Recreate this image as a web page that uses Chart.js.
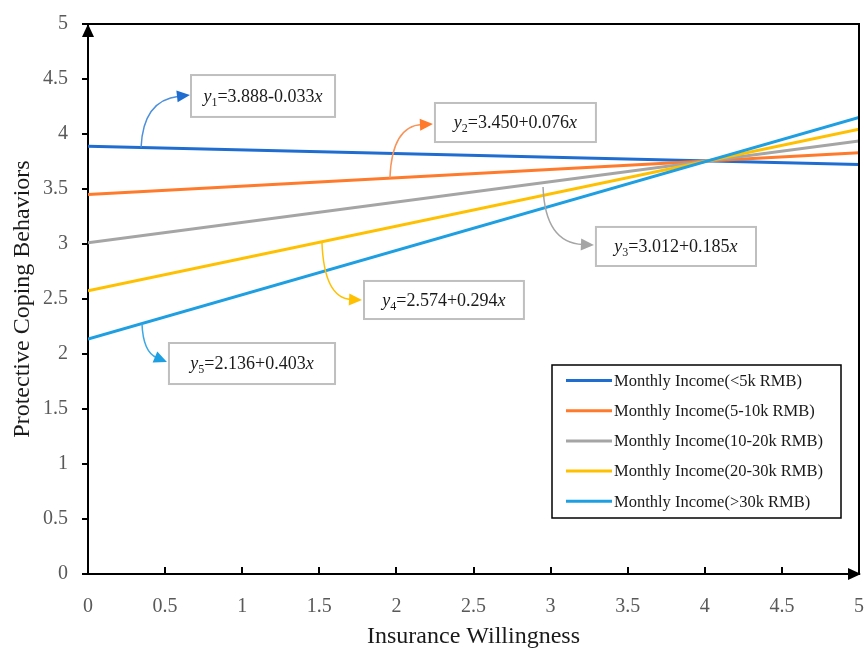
<!DOCTYPE html>
<html><head><meta charset="utf-8">
<script src="https://cdn.jsdelivr.net/npm/chart.js@4.4.1/dist/chart.umd.min.js"></script>
<style>html,body{margin:0;padding:0;background:#fff}#wrap{width:866px;height:651px}</style>
</head><body><div id="wrap"><canvas id="c" width="866" height="651"></canvas></div>
<script>
// ---- data ----
const xValues = [0, 5];
const seriesLabels = [
  'Monthly Income(<5k RMB)',
  'Monthly Income(5-10k RMB)',
  'Monthly Income(10-20k RMB)',
  'Monthly Income(20-30k RMB)',
  'Monthly Income(>30k RMB)'
];
const incomeBelow5k = [3.888, 3.723];
const income5to10k = [3.450, 3.830];
const income10to20k = [3.012, 3.937];
const income20to30k = [2.574, 4.044];
const incomeAbove30k = [2.136, 4.151];
const xTickValues = [0, 0.5, 1, 1.5, 2, 2.5, 3, 3.5, 4, 4.5, 5];
const xTickLabels = ['0', '0.5', '1', '1.5', '2', '2.5', '3', '3.5', '4', '4.5', '5'];
const yTickValues = [0, 0.5, 1, 1.5, 2, 2.5, 3, 3.5, 4, 4.5, 5];
const yTickLabels = ['0', '0.5', '1', '1.5', '2', '2.5', '3', '3.5', '4', '4.5', '5'];
const eqSubscripts = ['1', '2', '3', '4', '5'];
const eqBodies = ['=3.888-0.033', '=3.450+0.076', '=3.012+0.185', '=2.574+0.294', '=2.136+0.403'];

// ---- styles ----
const FONT = '"Liberation Serif", "Times New Roman", serif';
const colors = ['#1f6dd0', '#ff7a2a', '#a5a5a5', '#ffc000', '#1e9fe2'];
const arrowColors = ['#4d8fdc', '#f7945a', '#a5a5a5', '#ffc000', '#3aa8e6'];

// annotation placement (data units): box [x0,x1,yTop,yBottom], arrow from / ctrl / tip
const annotations = [
  {box:[0.668,1.602,4.536,4.155], from:[0.344,3.877], ctrl:[0.357,4.309], tip:[0.661,4.355]},
  {box:[2.250,3.294,4.282,3.927], from:[1.958,3.600], ctrl:[1.971,4.073], tip:[2.237,4.090]},
  {box:[3.294,4.332,3.155,2.800], from:[2.951,3.518], ctrl:[2.964,3.009], tip:[3.281,2.991]},
  {box:[1.790,2.827,2.664,2.318], from:[1.517,3.020], ctrl:[1.530,2.509], tip:[1.777,2.490]},
  {box:[0.525,1.602,2.100,1.727], from:[0.350,2.277], ctrl:[0.357,2.018], tip:[0.512,1.927]}
];

const seriesValues = [incomeBelow5k, income5to10k, income10to20k, income20to30k, incomeAbove30k];
const datasets = seriesValues.map((vals, i) => ({
  label: seriesLabels[i],
  data: vals.map((v, j) => ({x: xValues[j], y: v})),
  borderColor: colors[i],
  backgroundColor: colors[i],
  borderWidth: 3,
  pointRadius: 0,
  tension: 0,
  fill: false,
  order: 5 - i
}));

function drawEquation(ctx, cx, cy, sub, body) {
  const fs = 18;
  const fItal = `italic ${fs}px ${FONT}`;
  const fReg = `${fs}px ${FONT}`;
  const fSub = `${Math.round(fs * 0.68)}px ${FONT}`;
  ctx.save();
  ctx.fillStyle = '#1a1a1a';
  ctx.textBaseline = 'alphabetic';
  ctx.textAlign = 'left';
  ctx.font = fItal; const wy = ctx.measureText('y').width;
  ctx.font = fSub; const ws = ctx.measureText(sub).width;
  ctx.font = fReg; const wb = ctx.measureText(body).width;
  ctx.font = fItal; const wx = ctx.measureText('x').width;
  const total = wy + ws + wb + wx;
  let x = cx - total / 2;
  const base = cy + fs * 0.32;
  ctx.font = fItal; ctx.fillText('y', x, base); x += wy;
  ctx.font = fSub; ctx.fillText(sub, x, base + 4); x += ws;
  ctx.font = fReg; ctx.fillText(body, x, base); x += wb;
  ctx.font = fItal; ctx.fillText('x', x, base);
  ctx.restore();
}

const decorPlugin = {
  id: 'decor',
  afterDatasetsDraw(chart) {
    const ctx = chart.ctx;
    const xs = chart.scales.x, ys = chart.scales.y;
    const a = chart.chartArea;
    ctx.save();
    // frame top & right
    ctx.strokeStyle = '#000'; ctx.lineWidth = 2;
    ctx.beginPath();
    ctx.moveTo(a.left, a.top); ctx.lineTo(a.right, a.top); ctx.lineTo(a.right, a.bottom);
    ctx.stroke();
    // x ticks inside
    ctx.lineWidth = 2;
    xTickValues.forEach(v => {
      if (v === 0 || v === 5) return;
      const px = Math.round(xs.getPixelForValue(v));
      ctx.beginPath(); ctx.moveTo(px, a.bottom); ctx.lineTo(px, a.bottom - 7); ctx.stroke();
    });
    // axis arrows
    ctx.fillStyle = '#000';
    ctx.beginPath();
    ctx.moveTo(a.left, a.top); ctx.lineTo(a.left - 6, a.top + 13); ctx.lineTo(a.left + 6, a.top + 13); ctx.closePath(); ctx.fill();
    ctx.beginPath();
    ctx.moveTo(a.right + 2, a.bottom); ctx.lineTo(a.right - 11, a.bottom - 6); ctx.lineTo(a.right - 11, a.bottom + 6); ctx.closePath(); ctx.fill();

    // annotations
    annotations.forEach((an, i) => {
      const bx0 = xs.getPixelForValue(an.box[0]), bx1 = xs.getPixelForValue(an.box[1]);
      const by0 = ys.getPixelForValue(an.box[2]), by1 = ys.getPixelForValue(an.box[3]);
      ctx.fillStyle = '#fff';
      ctx.fillRect(bx0, by0, bx1 - bx0, by1 - by0);
      ctx.strokeStyle = '#bfbfbf'; ctx.lineWidth = 2;
      ctx.strokeRect(bx0, by0, bx1 - bx0, by1 - by0);
      drawEquation(ctx, (bx0 + bx1) / 2, (by0 + by1) / 2, eqSubscripts[i], eqBodies[i]);
      // arrow
      const fx = xs.getPixelForValue(an.from[0]), fy = ys.getPixelForValue(an.from[1]);
      const cx = xs.getPixelForValue(an.ctrl[0]), cy = ys.getPixelForValue(an.ctrl[1]);
      const tx = xs.getPixelForValue(an.tip[0]), ty = ys.getPixelForValue(an.tip[1]);
      let dx = tx - cx, dy = ty - cy; const len = Math.hypot(dx, dy); dx /= len; dy /= len;
      const hl = 13, hw = 6;
      const bxp = tx - dx * hl, byp = ty - dy * hl;
      ctx.strokeStyle = arrowColors[i]; ctx.lineWidth = 1.5;
      ctx.beginPath(); ctx.moveTo(fx, fy); ctx.quadraticCurveTo(cx, cy, bxp + dx * 2, byp + dy * 2); ctx.stroke();
      ctx.fillStyle = colors[i];
      ctx.beginPath();
      ctx.moveTo(tx, ty);
      ctx.lineTo(bxp - dy * hw, byp + dx * hw);
      ctx.lineTo(bxp + dy * hw, byp - dx * hw);
      ctx.closePath(); ctx.fill();
    });

    // legend box
    const lx0 = 552, ly0 = 365, lx1 = 841, ly1 = 518;
    ctx.fillStyle = '#fff';
    ctx.fillRect(lx0, ly0, lx1 - lx0, ly1 - ly0);
    ctx.strokeStyle = '#000'; ctx.lineWidth = 1.5;
    ctx.strokeRect(lx0, ly0, lx1 - lx0, ly1 - ly0);
    ctx.font = `16.5px ${FONT}`;
    ctx.textBaseline = 'middle'; ctx.textAlign = 'left';
    chart.data.datasets.forEach((ds, i) => {
      const yy = ly0 + 15.5 + i * 30.2;
      ctx.strokeStyle = ds.borderColor; ctx.lineWidth = 3;
      ctx.beginPath(); ctx.moveTo(566, yy); ctx.lineTo(612, yy); ctx.stroke();
      ctx.fillStyle = '#1a1a1a';
      ctx.fillText(ds.label, 614, yy + 1);
    });
    ctx.restore();
  }
};

new Chart(document.getElementById('c'), {
  type: 'line',
  data: {datasets},
  plugins: [decorPlugin],
  options: {
    responsive: false,
    animation: false,
    devicePixelRatio: 1,
    layout: {padding: {top: 24, right: 7, left: 0, bottom: 0}},
    plugins: {legend: {display: false}, tooltip: {enabled: false}},
    scales: {
      x: {
        type: 'linear', min: 0, max: 5,
        afterBuildTicks(s) { s.ticks = xTickValues.map(v => ({value: v})); },
        afterFit(s) { s.height = 77; s.paddingLeft = 0; s.paddingRight = 0; },
        ticks: {
          autoSkip: false, maxRotation: 0, padding: 13, color: '#595959',
          font: {family: FONT, size: 20},
          callback: (v, i) => xTickLabels[i]
        },
        grid: {display: false},
        border: {display: true, color: '#000', width: 2},
        title: {display: true, text: 'Insurance Willingness', color: '#1a1a1a',
          font: {family: FONT, size: 24, lineHeight: 1.2}, padding: {top: 0, bottom: 0}}
      },
      y: {
        type: 'linear', min: 0, max: 5,
        afterBuildTicks(s) { s.ticks = yTickValues.map(v => ({value: v})); },
        afterFit(s) { s.width = 88; s.paddingTop = 0; s.paddingBottom = 0; },
        ticks: {
          autoSkip: false, padding: 14, color: '#595959',
          font: {family: FONT, size: 20},
          callback: (v, i) => yTickLabels[i]
        },
        grid: {drawOnChartArea: false, drawTicks: true, tickLength: 6, color: '#000', lineWidth: 2},
        border: {display: true, color: '#000', width: 2},
        title: {display: true, text: 'Protective Coping Behaviors', color: '#1a1a1a',
          font: {family: FONT, size: 24, lineHeight: 1.2}, padding: {top: 8, bottom: 0}}
      }
    }
  }
});
</script>
</body></html>
